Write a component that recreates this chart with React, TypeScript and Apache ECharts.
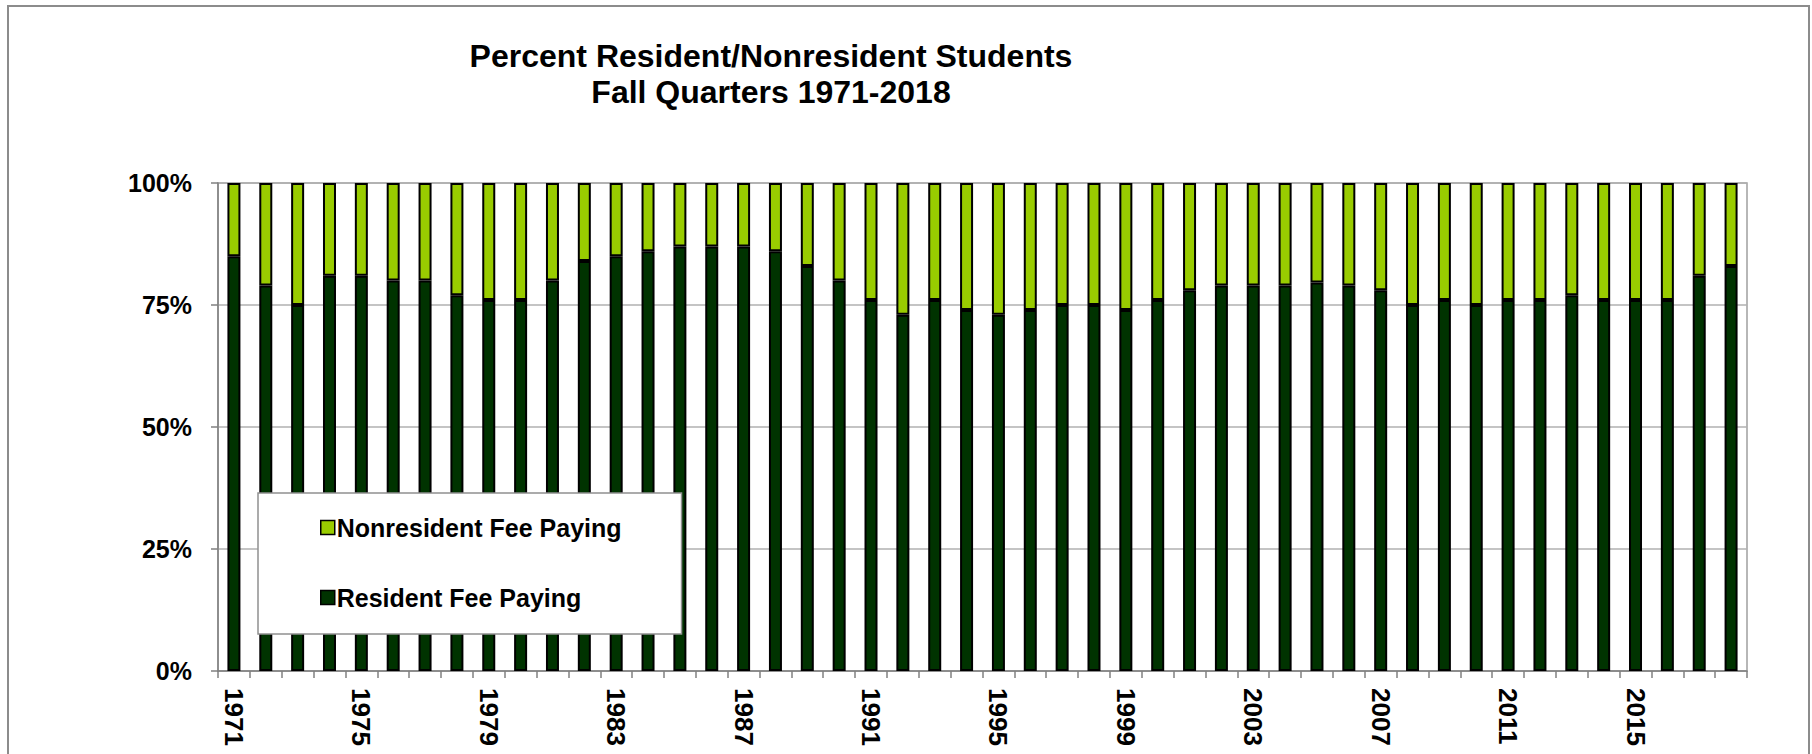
import React, { useEffect, useRef } from "react";
import * as echarts from "echarts";

const years: string[] = [];
for (let y = 1971; y <= 2018; y++) years.push(String(y));

const resident: number[] = [
  85, 79, 75, 81, 81, 80, 80, 77, 76, 76,
  80, 84, 85, 86, 87, 87, 87, 86, 83, 80,
  76, 73, 76, 74, 73, 74, 75, 75, 74, 76,
  78, 79, 79, 79, 79.6, 79, 78, 75, 76, 75,
  76, 76, 77, 76, 76, 76, 81, 83,
];

const nonresident: number[] = [
  15, 21, 25, 19, 19, 20, 20, 23, 24, 24,
  20, 16, 15, 14, 13, 13, 13, 14, 17, 20,
  24, 27, 24, 26, 27, 26, 25, 25, 26, 24,
  22, 21, 21, 21, 20.4, 21, 22, 25, 24, 25,
  24, 24, 23, 24, 24, 24, 19, 17,
];

const titleLines = ["Percent Resident/Nonresident Students", "Fall Quarters 1971-2018"];
const seriesNames = ["Resident Fee Paying", "Nonresident Fee Paying"];
const yTicks = [0, 25, 50, 75, 100];

const FONT = '"Liberation Sans", Arial, sans-serif';

export default function App() {
  const ref = useRef<HTMLDivElement>(null);
  useEffect(() => {
    if (!ref.current) return;
    const chart = echarts.init(ref.current, undefined, { renderer: "svg" });
    chart.setOption({
      animation: false,
      backgroundColor: "#ffffff",
      textStyle: { fontFamily: FONT },
      graphic: [
        {
          type: "rect",
          shape: { x: 8, y: 6, width: 1801, height: 800 },
          style: { fill: "none", stroke: "#8c8c8c", lineWidth: 2 },
          silent: true,
        },
        {
          type: "text",
          x: 771,
          y: 56,
          style: {
            text: titleLines[0],
            textAlign: "center",
            textVerticalAlign: "middle",
            font: `bold 32px ${FONT}`,
            fill: "#000",
          },
        },
        {
          type: "text",
          x: 771,
          y: 92,
          style: {
            text: titleLines[1],
            textAlign: "center",
            textVerticalAlign: "middle",
            font: `bold 32px ${FONT}`,
            fill: "#000",
          },
        },
      ],
      legend: {
        orient: "vertical",
        left: 258,
        top: 493,
        data: [seriesNames[1], seriesNames[0]],
        icon: "rect",
        itemWidth: 14,
        itemHeight: 14,
        itemGap: 45,
        padding: [22, 60, 24, 62],
        backgroundColor: "#ffffff",
        borderColor: "#909090",
        borderWidth: 1.5,
        textStyle: { fontFamily: FONT, fontWeight: "bold", fontSize: 25, color: "#000", padding: [0, 0, 0, -3] },
        itemStyle: { borderColor: "#000", borderWidth: 1.5 },
      },
      grid: {
        left: 218,
        right: 65,
        top: 183,
        bottom: 83,
        show: true,
        borderColor: "#a0a0a0",
        borderWidth: 1.5,
        backgroundColor: "transparent",
      },
      xAxis: {
        type: "category",
        data: years,
        boundaryGap: true,
        axisLine: { lineStyle: { color: "#808080", width: 1.5 } },
        axisTick: { show: true, interval: 0, length: 7, lineStyle: { color: "#808080", width: 1.5 } },
        axisLabel: {
          interval: 3,
          rotate: -90,
          margin: 17,
          fontFamily: FONT,
          fontWeight: "bold",
          fontSize: 26,
          color: "#000",
        },
      },
      yAxis: {
        type: "value",
        min: yTicks[0],
        max: yTicks[yTicks.length - 1],
        interval: 25,
        axisLine: { show: true, lineStyle: { color: "#808080", width: 1.5 } },
        axisTick: { show: true, length: 7, lineStyle: { color: "#808080", width: 1.5 } },
        splitLine: { show: true, lineStyle: { color: "#b0b0b0", width: 1.5 } },
        axisLabel: {
          formatter: "{value}%",
          margin: 26,
          fontFamily: FONT,
          fontWeight: "bold",
          fontSize: 25,
          color: "#000",
        },
      },
      series: [
        {
          name: seriesNames[0],
          type: "bar",
          stack: "total",
          data: resident,
          barWidth: 13,
          itemStyle: { color: "#003300", borderColor: "#000", borderWidth: 2 },
        },
        {
          name: seriesNames[1],
          type: "bar",
          stack: "total",
          data: nonresident,
          barWidth: 13,
          itemStyle: { color: "#99cc00", borderColor: "#000", borderWidth: 2 },
        },
      ],
    });
    return () => chart.dispose();
  }, []);
  return (
    <div
      ref={ref}
      style={{ position: "fixed", left: 0, top: 0, width: 1812, height: 754, background: "#fff" }}
    />
  );
}
